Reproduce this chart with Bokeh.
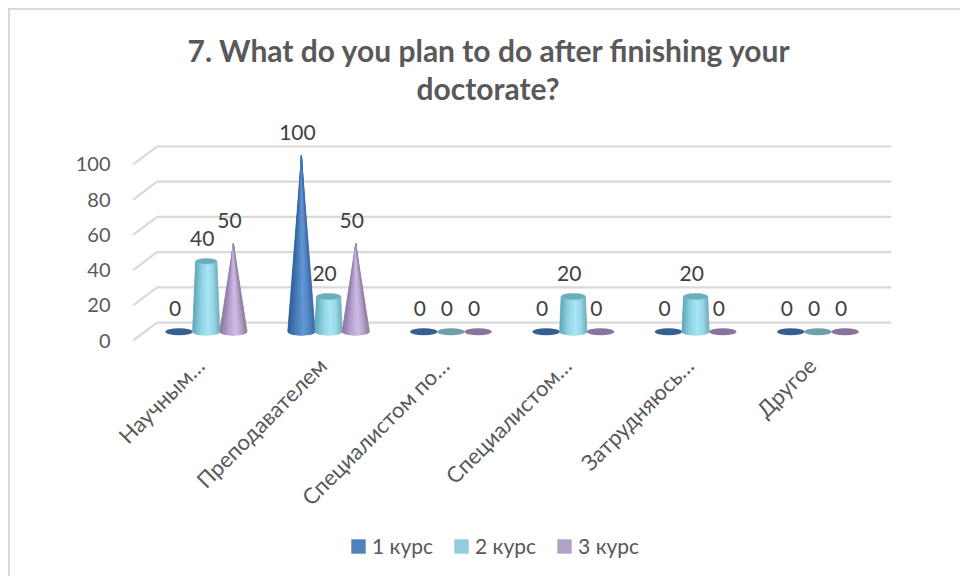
from bokeh.plotting import figure
from bokeh.embed import file_html
from bokeh.resources import INLINE
from bokeh.models import (FactorRange, Range1d, FixedTicker, Legend, LegendItem, Title)
from bokeh.core.properties import value
import numpy as np

FONT = "Lato"

title_line1 = "7. What do you plan to do after finishing your"
title_line2 = "doctorate?"
categories = ["Научным…", "Преподавателем", "Специалистом по…",
              "Специалистом…", "Затрудняюсь…", "Другое"]
kurs1 = [0, 100, 0, 0, 0, 0]
kurs2 = [40, 20, 0, 20, 20, 0]
kurs3 = [50, 50, 0, 0, 0, 0]
y_ticks = [0, 20, 40, 60, 80, 100]

series = [
    dict(name="1 курс", values=kurs1, dx=-0.222, flat="#4f81bd", zero="#355f91",
         ramp=["#2f5f98", "#4a7db9", "#6598d8", "#5587c4", "#3a6aa3"], cap=None, taper=None),
    dict(name="2 курс", values=kurs2, dx=0.0, flat="#93cddd", zero="#6f9faa",
         ramp=["#5da3b5", "#8fd2e2", "#a8e7f7", "#99d6e6", "#74afbf"], cap="#6cadbc", taper=180.0),
    dict(name="3 курс", values=kurs3, dx=0.222, flat="#b2a1c7", zero="#8a739c",
         ramp=["#8a759f", "#b3a0cf", "#cfbee8", "#b9a6cb", "#8e7b9a"], cap=None, taper=None),
]

# depth offsets of the fake 3D scene, in value / category units
BACK = 10.2
BASE = 5.0
SHIFT = 0.05    # scene sits slightly right of the category ticks
DEPTH = 0.098
RX = 0.112      # cone half width (category units)
RY = 2.0        # base ellipse half height (value units)
N = 18

p = figure(width=952, height=568, output_backend="svg", toolbar_location=None,
           x_range=FactorRange(factors=categories, range_padding=0.2, range_padding_units="absolute"),
           y_range=Range1d(-135.2, 133.5),
           min_border_left=104, min_border_right=65, min_border_top=95, min_border_bottom=0,
           background_fill_color="white", border_fill_color="white", outline_line_color=None,
           margin=(8, 0, 0, 8),
           styles={"border-left": "2px solid #d9d9d9", "border-top": "2px solid #d9d9d9"})
p.grid.visible = False

# walls
x_lo, x_hi = SHIFT, float(len(categories)) + SHIFT
p.segment(x0=[x_lo + DEPTH] * len(y_ticks), y0=[v + BACK for v in y_ticks],
          x1=[x_hi + DEPTH] * len(y_ticks), y1=[v + BACK for v in y_ticks],
          line_color="#d9d9d9", line_width=2.2)
p.segment(x0=[x_lo - DEPTH] * len(y_ticks), y0=y_ticks,
          x1=[x_lo + DEPTH] * len(y_ticks), y1=[v + BACK for v in y_ticks],
          line_color="#d9d9d9", line_width=2.2)


def ramp_colors(ramp, n):
    def h(c):
        return np.array([int(c[i:i + 2], 16) for i in (1, 3, 5)], float)
    stops = np.array([h(c) for c in ramp])
    pos = np.array([0, 0.3, 0.58, 0.8, 1.0])
    out = []
    for k in range(n):
        t = (k + 0.5) / n
        rgb = [np.interp(t, pos, stops[:, j]) for j in range(3)]
        out.append("#%02x%02x%02x" % tuple(int(round(c)) for c in rgb))
    return out


legend_items = []
for s in series:
    sil_x, sil_y, xs, ys, cols = [], [], [], [], []
    cap_x, cap_y = [], []
    zx, zy = [], []
    colors = ramp_colors(s["ramp"], N)
    for i, v in enumerate(s["values"]):
        c = i + 0.5 + s["dx"] + SHIFT
        if v == 0:
            zx.append(c)
            zy.append(BASE)
            continue
        ratio = 0.0 if s["taper"] is None else 1 - v / s["taper"]
        top = v + BASE
        th = np.linspace(np.pi, 2 * np.pi, 25)
        sil_x.append(list(c + RX * np.cos(th)) + [c + RX * ratio, c - RX * ratio])
        sil_y.append(list(BASE + RY * np.sin(th)) + [top, top])
        ts = np.linspace(-1, 1, N + 1)
        for k in range(N):
            a, b = ts[k], ts[k + 1]
            ya = RY * np.sqrt(max(0, 1 - a * a))
            yb = RY * np.sqrt(max(0, 1 - b * b))
            xs.append([c + RX * a, c + RX * b, c + RX * ratio * b, c + RX * ratio * a])
            ys.append([BASE - ya, BASE - yb, top - yb * ratio, top - ya * ratio])
            cols.append(colors[k])
        if s["cap"]:
            t2 = np.linspace(0, 2 * np.pi, 33)
            cap_x.append(list(c + RX * ratio * np.cos(t2)))
            cap_y.append(list(top + RY * ratio * np.sin(t2)))
    if zx:
        p.ellipse(x=zx, y=zy, width=RX * 2, height=RY * 2.0, fill_color=s["zero"], line_color=None)
    sil = p.patches(xs=sil_x, ys=sil_y, fill_color=s["flat"], line_color=None)
    p.patches(xs=xs, ys=ys, fill_color=cols, line_color=cols, line_width=0.6)
    if cap_x:
        p.patches(xs=cap_x, ys=cap_y, fill_color=s["cap"], line_color="#7fc0cf", line_width=0.6)
    legend_items.append(LegendItem(label=s["name"], renderers=[sil]))

# data labels
for s in series:
    lx = [i + 0.5 + s["dx"] + SHIFT for i in range(len(categories))]
    ly = [v + BASE for v in s["values"]]
    p.text(x=lx, y=ly, text=[str(v) for v in s["values"]], x_offset=-4, y_offset=-23,
           text_align="center", text_baseline="middle", text_color="#404040",
           text_font=value(FONT), text_font_size="21px")

# axes
p.yaxis.ticker = FixedTicker(ticks=y_ticks)
p.yaxis.axis_line_color = None
p.yaxis.major_tick_line_color = None
p.yaxis.minor_tick_line_color = None
p.yaxis.major_tick_out = 0
p.yaxis.major_tick_in = 0
p.yaxis.major_label_standoff = 4
p.yaxis.major_label_text_font = FONT
p.yaxis.major_label_text_font_size = "20px"
p.yaxis.major_label_text_color = "#595959"

p.xaxis.fixed_location = -2.84
p.xaxis.axis_line_color = None
p.xaxis.major_tick_line_color = None
p.xaxis.minor_tick_line_color = None
p.xaxis.major_label_orientation = np.pi / 4
p.xaxis.major_label_standoff = 10
p.xaxis.major_label_text_font = FONT
p.xaxis.major_label_text_font_size = "22px"
p.xaxis.major_label_text_color = "#595959"

# title: two lines, the second nearest the plot
for text, off in ((title_line2, 302), (title_line1, 73)):
    p.add_layout(Title(text=text, align="left", offset=off, standoff=0,
                       text_font=FONT, text_font_size="30px", text_font_style="bold",
                       text_line_height=1.0, text_color="#595959"), "above")

# legend
legend = Legend(items=legend_items, orientation="horizontal", location=(235, 20),
                glyph_width=18, glyph_height=18, label_standoff=5, spacing=19,
                padding=0, margin=0,
                border_line_color=None, background_fill_alpha=0,
                label_text_font=FONT, label_text_font_size="21px", label_text_color="#595959")
p.add_layout(legend)

open("out.html", "w").write(file_html(p, INLINE))
